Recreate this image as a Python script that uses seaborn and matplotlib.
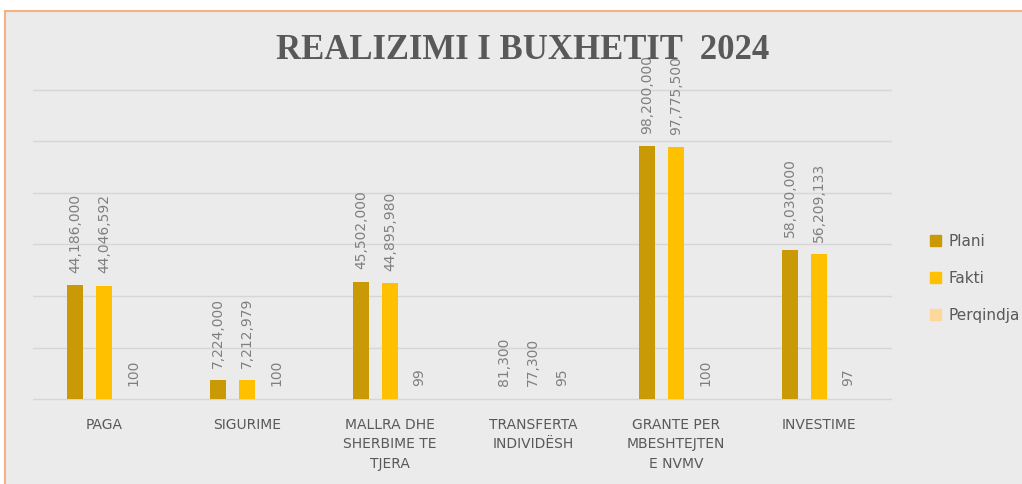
import pandas as pd
import seaborn as sns
import matplotlib.pyplot as plt
from matplotlib.patches import Rectangle

# Te dhenat e buxhetit 2024
kategorite = ['PAGA', 'SIGURIME', 'MALLRA DHE\nSHERBIME TE\nTJERA',
              'TRANSFERTA\nINDIVIDËSH', 'GRANTE PER\nMBESHTEJTEN\nE NVMV', 'INVESTIME']
plani = [44186000, 7224000, 45502000, 81300, 98200000, 58030000]
fakti = [44046592, 7212979, 44895980, 77300, 97775500, 56209133]
perqindja = [100, 100, 99, 95, 100, 97]
seri = ['Plani', 'Fakti', 'Perqindja']
ngjyrat = ['#c99a06', '#ffc000', '#fdd89a']

df = pd.DataFrame({
    'kategoria': kategorite * 3,
    'seria': ['Plani'] * 6 + ['Fakti'] * 6 + ['Perqindja'] * 6,
    'vlera': plani + fakti + perqindja,
})

sns.set_style('white')
plt.rcParams['font.family'] = ['DejaVu Sans']

fig = plt.figure(figsize=(10.22, 4.84), dpi=100)
fig.patch.set_facecolor('white')

# sfondi gri me kornize portokalli
fig.patches.append(Rectangle((5 / 1022, -0.01), 1.0, 1 - 11 / 484 + 0.01,
                             transform=fig.transFigure, facecolor='#ebebeb',
                             edgecolor='#f4b183', linewidth=1.5, zorder=-10))

ax = fig.add_axes([32.5 / 1022, 85 / 484, 858 / 1022, 309 / 484])
ax.set_facecolor('none')

sns.barplot(data=df, x='kategoria', y='vlera', hue='seria', hue_order=seri,
            palette=ngjyrat, width=0.61, gap=0.45, ax=ax, legend=False,
            saturation=1, errorbar=None, linewidth=0)

ax.set_ylim(0, 120000000)
ax.set_yticks(range(0, 120000001, 20000000))
ax.set_yticklabels([])
ax.tick_params(left=False, bottom=False)
ax.grid(axis='y', color='#d6d6d6', linewidth=1)
for gl in ax.get_ygridlines():
    gl.set_clip_on(False)
ax.set_axisbelow(True)
for s in ax.spines.values():
    s.set_visible(False)
ax.set_xlabel('')
ax.set_ylabel('')
ax.set_xticks(range(len(kategorite)))
ax.set_xticklabels(kategorite, color='#595959', fontsize=10, linespacing=1.5)
ax.tick_params(axis='x', pad=10)

# etiketat e vlerave
for cont, vlerat in zip(ax.containers, [plani, fakti, perqindja]):
    ax.bar_label(cont, labels=[f'{v:,}' for v in vlerat], rotation=90,
                 padding=9, color='#7f7f7f', fontsize=10)

fig.text(0.511, 0.895, 'REALIZIMI I BUXHETIT  2024', ha='center', va='center',
         fontsize=25, fontweight='bold', family='Liberation Serif', color='#595959')

handles = [Rectangle((0, 0), 1, 1, color=c) for c in ngjyrat]
fig.legend(handles, seri, loc='center left', bbox_to_anchor=(0.897, 0.425),
           frameon=False, handlelength=0.7, handleheight=0.7, handletextpad=0.5,
           labelspacing=1.45, fontsize=11, labelcolor='#595959')

fig.savefig('out.png', dpi=100)
